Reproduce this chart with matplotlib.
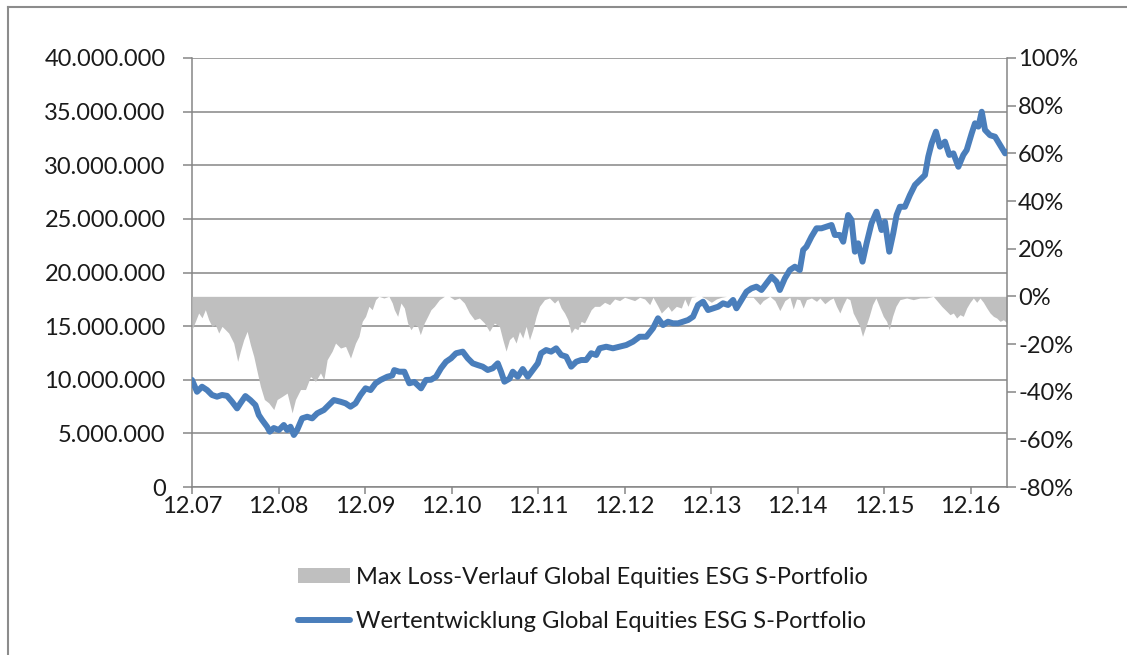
import matplotlib
matplotlib.use("Agg")
import matplotlib.pyplot as plt
import numpy as np
from matplotlib.ticker import FuncFormatter, FixedLocator
from matplotlib.patches import Patch
from matplotlib.lines import Line2D

# ---- data (x = years since Dec 2007) ----
years_value = [0.000, 0.058, 0.116, 0.174, 0.231, 0.289, 0.347, 0.405, 0.463, 0.521, 0.559, 0.617, 0.675, 0.733,
               0.772, 0.810, 0.868, 0.899, 0.945, 1.003, 1.061, 1.100, 1.138, 1.177, 1.215, 1.273, 1.331, 1.389,
               1.447, 1.524, 1.582, 1.640, 1.717, 1.775, 1.832, 1.890, 1.948, 2.006, 2.064, 2.122, 2.180, 2.257,
               2.315,
               2.338, 2.396, 2.454, 2.512, 2.569, 2.647, 2.704, 2.762, 2.820, 2.878, 2.936, 2.994, 3.052, 3.129,
               3.187, 3.245, 3.302, 3.360, 3.418, 3.476, 3.534, 3.572, 3.611, 3.669, 3.708, 3.765, 3.823, 3.881,
               3.939, 3.997, 4.035, 4.093, 4.151, 4.209, 4.267, 4.325, 4.383, 4.441, 4.498, 4.556, 4.614, 4.672,
               4.711, 4.788, 4.865, 4.942, 5.020, 5.097, 5.174, 5.251, 5.328, 5.386, 5.444, 5.502, 5.560, 5.618,
               5.676, 5.734, 5.791, 5.849, 5.907, 5.965, 6.023, 6.081, 6.138, 6.196, 6.254, 6.293, 6.351, 6.409,
               6.466, 6.524, 6.582, 6.640, 6.698, 6.756, 6.794, 6.852, 6.910, 6.968,
               7.025, 7.064, 7.102, 7.160, 7.218, 7.276, 7.334, 7.392, 7.430, 7.488, 7.527, 7.584, 7.623, 7.662,
               7.700, 7.750, 7.797, 7.854, 7.912, 7.970, 8.009, 8.059, 8.105, 8.144, 8.182, 8.240, 8.298, 8.356,
               8.414, 8.472, 8.510, 8.549, 8.599, 8.645, 8.703, 8.753, 8.800, 8.858, 8.915, 8.954, 9.012, 9.050,
               9.089, 9.128, 9.166, 9.224, 9.282, 9.340, 9.398, 9.420]
portfolio_mio = [9.98, 8.88, 9.35, 9.04, 8.58, 8.42, 8.58, 8.50, 7.95, 7.33, 7.80, 8.48, 8.10, 7.64,
                 6.71, 6.25, 5.62, 5.16, 5.50, 5.31, 5.78, 5.31, 5.62, 4.85, 5.31, 6.40, 6.55, 6.40,
                 6.87, 7.18, 7.64, 8.11, 7.95, 7.80, 7.49, 7.80, 8.58, 9.20, 9.04, 9.67, 9.98, 10.28,
                 10.40,
                 10.90, 10.75, 10.75, 9.67, 9.80, 9.20, 9.98, 10.00, 10.28, 11.07, 11.68, 12.00, 12.47, 12.62,
                 12.00, 11.53, 11.37, 11.22, 10.91, 11.07, 11.53, 10.75, 9.82, 10.10, 10.75, 10.28, 11.00, 10.28,
                 10.91, 11.53, 12.47, 12.77, 12.62, 12.93, 12.31, 12.16, 11.22, 11.68, 11.84, 11.84, 12.47, 12.31,
                 12.93, 13.08, 12.93, 13.08, 13.24, 13.55, 14.01, 14.01, 14.80, 15.73, 15.10, 15.41, 15.26, 15.26,
                 15.41, 15.57, 15.88, 16.97, 17.28, 16.50, 16.66, 16.81, 17.13, 16.97, 17.44, 16.66, 17.44, 18.21,
                 18.52, 18.68, 18.37, 18.99, 19.61, 19.14, 18.37, 19.45, 20.23, 20.54,
                 20.23, 22.10, 22.41, 23.34, 24.12, 24.12, 24.27, 24.43, 23.50, 23.50, 22.87, 25.36, 24.90, 21.94,
                 22.72, 21.01, 22.72, 24.59, 25.67, 23.96, 24.74, 21.94, 23.65, 25.36, 26.13, 26.13, 27.22, 28.16,
                 28.62, 29.09, 30.80, 32.04, 33.13, 31.73, 32.20, 30.96, 31.11, 29.86, 30.96, 31.42, 32.98, 33.91,
                 33.60, 34.99, 33.29, 32.80, 32.66, 31.89, 31.11, 31.26]

years_loss = [0.000, 0.039, 0.077, 0.116, 0.154, 0.193, 0.231, 0.270, 0.309, 0.347, 0.386, 0.424, 0.482, 0.528,
              0.559, 0.598, 0.637, 0.675, 0.714, 0.752, 0.791, 0.837, 0.887, 0.945, 0.984, 1.042, 1.100, 1.157,
              1.196, 1.254, 1.312, 1.370, 1.427, 1.485, 1.524, 1.562, 1.620, 1.659, 1.717, 1.775, 1.832, 1.890,
              1.929, 1.968, 2.006, 2.045, 2.083, 2.122, 2.160, 2.218, 2.276, 2.315,
              2.338, 2.377, 2.415, 2.454, 2.492, 2.531, 2.569, 2.608, 2.639, 2.685, 2.724, 2.762, 2.801, 2.859,
              2.917, 2.975, 3.032, 3.090, 3.148, 3.206, 3.264, 3.322, 3.380, 3.438, 3.495, 3.553, 3.592, 3.630,
              3.669, 3.708, 3.746, 3.785, 3.823, 3.862, 3.901, 3.939, 3.978, 4.016, 4.074, 4.132, 4.190, 4.228,
              4.267, 4.306, 4.344, 4.383, 4.421, 4.460, 4.498, 4.537, 4.576, 4.614, 4.653,
              4.711, 4.769, 4.827, 4.885, 4.942, 5.000, 5.058, 5.116, 5.174, 5.232, 5.290, 5.328, 5.386, 5.425,
              5.463, 5.502, 5.540, 5.598, 5.656, 5.695, 5.733, 5.772, 5.830, 5.888, 5.945, 6.003, 6.061, 6.119,
              6.177, 6.254, 6.331, 6.409, 6.486, 6.563, 6.601, 6.679, 6.737, 6.794, 6.852, 6.910, 6.949, 6.987,
              7.025, 7.064, 7.102, 7.160, 7.218, 7.257, 7.314, 7.372, 7.411, 7.449, 7.488, 7.527, 7.565, 7.604,
              7.642, 7.681, 7.719, 7.750, 7.789, 7.827, 7.866, 7.905, 7.951, 7.990, 8.028, 8.059, 8.097, 8.136,
              8.182, 8.260, 8.337, 8.414, 8.491, 8.568, 8.626, 8.665, 8.723, 8.761, 8.800, 8.838, 8.877, 8.915,
              8.954, 8.993, 9.031, 9.070, 9.108, 9.147, 9.186, 9.224, 9.263, 9.301, 9.340, 9.378, 9.420]
max_loss_pct = [-14.0, -10.5, -7.0, -9.0, -5.6, -9.8, -12.6, -11.9, -15.4, -12.6, -14.0, -15.4, -19.6, -27.3,
                -23.0, -18.2, -14.7, -20.3, -25.2, -31.5, -37.8, -43.3, -44.7, -47.5, -43.3, -42.0, -40.6, -48.9,
                -43.3, -39.1, -39.1, -33.6, -35.7, -32.1, -35.0, -26.6, -23.0, -19.6, -21.7, -21.0, -25.9, -19.6,
                -16.8, -10.5, -8.4, -4.2, -5.6, -1.4, 0.0, -0.7, 0.0, -2.8,
                -5.6, -8.4, -2.8, -4.9, -11.2, -14.0, -11.9, -12.6, -16.1, -11.2, -8.4, -5.6, -4.2, -1.4,
                0.0, 0.0, -1.4, -0.7, -2.8, -7.0, -9.8, -9.1, -11.2, -14.7, -11.2, -12.6, -18.2, -23.0,
                -18.2, -16.8, -19.6, -14.7, -17.5, -12.6, -18.2, -14.0, -8.4, -4.2, -1.4, -0.7, -2.8, -1.4,
                -4.9, -7.0, -9.8, -15.4, -13.3, -14.0, -10.5, -11.2, -8.4, -5.6, -4.2,
                -4.2, -2.5, -3.5, -1.1, -1.8, -0.4, -1.1, -1.8, -0.4, -1.1, -3.5, -0.4, -4.2, -7.0,
                -5.6, -4.2, -6.3, -4.2, -4.9, -1.1, -4.2, -0.4, 0.0, 0.0, -1.1, -2.5, -1.1, -0.4,
                0.0, 0.0, 0.0, -0.4, -0.4, -3.5, -1.8, 0.0, -1.8, -6.0, -1.8, -0.4, -5.3, -1.1,
                -1.4, -4.9, -1.4, -0.7, -2.1, -0.7, -3.1, -1.4, -0.7, -4.2, -7.0, -3.5, -0.7, -1.4,
                -7.0, -9.8, -12.6, -16.8, -12.6, -8.4, -3.5, -0.7, -4.9, -8.4, -10.5, -14.0, -8.4, -4.2,
                -1.4, -0.7, -1.4, -0.7, -0.7, 0.0, -2.5, -4.2, -6.3, -7.7, -7.0, -9.1, -7.7, -8.4,
                -4.9, -2.5, -0.7, -2.5, -0.7, -2.5, -4.9, -7.0, -8.4, -9.1, -10.5, -9.8, -11.2]

x_tick_years = [0, 1, 2, 3, 4, 5, 6, 7, 8, 9]
x_tick_labels = ["12.07", "12.08", "12.09", "12.10", "12.11", "12.12", "12.13", "12.14", "12.15", "12.16"]
label_loss = "Max Loss-Verlauf Global Equities ESG S-Portfolio"
label_value = "Wertentwicklung Global Equities ESG S-Portfolio"

# ---- style ----
FONT = "Lato"
FS = 17.0
plt.rcParams["font.family"] = [FONT, "DejaVu Sans"]
GRID = "#868686"
TXT = "#1a1a1a"
BLUE = "#4a7ebb"
GRAY = "#bfbfbf"
LW = 4.3
TL = 6.5

W, H = 1127, 655
fig = plt.figure(figsize=(W / 100, H / 100), dpi=100)
rect = [192 / W, 1 - 487 / H, (1007 - 192) / W, (487 - 58) / H]

# base axes: money scale + gridlines
ax = fig.add_axes(rect)
ax.set_xlim(0, 9.42)
ax.set_ylim(0, 40_000_000)
ax.yaxis.set_major_locator(FixedLocator(np.arange(0, 40_000_001, 5_000_000)))
ax.yaxis.set_major_formatter(FuncFormatter(lambda v, p: f"{int(round(v)):,}".replace(",", ".")))
ax.set_xticks(x_tick_years)
ax.set_xticklabels(x_tick_labels)
ax.grid(axis="y", color=GRID, lw=1.1)
ax.set_axisbelow(True)
for s in ["top", "right"]:
    ax.spines[s].set_visible(False)
for s in ["left", "bottom"]:
    ax.spines[s].set_color(GRID)
    ax.spines[s].set_linewidth(1.1)
ax.tick_params(axis="both", colors=GRID, labelcolor=TXT, labelsize=FS, width=1.1, direction="out")
ax.tick_params(axis="y", length=TL, pad=12.5)
ax.tick_params(axis="x", length=5, pad=1.5)

# percent axes: drawdown area
ax2 = ax.twinx()
ax2.set_ylim(-80, 100)
ax2.yaxis.set_major_locator(FixedLocator(np.arange(-80, 101, 20)))
ax2.yaxis.set_major_formatter(FuncFormatter(lambda v, p: f"{int(round(v))}%"))
ax2.fill_between(years_loss, max_loss_pct, 0, color=GRAY, lw=0)
for s in ["top", "left", "bottom"]:
    ax2.spines[s].set_visible(False)
ax2.spines["right"].set_color(GRID)
ax2.spines["right"].set_linewidth(1.1)
ax2.tick_params(axis="y", colors=GRID, labelcolor=TXT, labelsize=FS, length=TL, width=1.1, pad=1.5)

# line axes on top: portfolio value (money scale)
ax3 = ax.twinx()
ax3.set_ylim(0, 40_000_000)
ax3.set_xlim(0, 9.42)
ax3.plot(years_value, np.array(portfolio_mio) * 1_000_000, color=BLUE, lw=LW,
         solid_joinstyle="round", solid_capstyle="round", clip_on=True)
ax3.set_yticks([])
for s in ax3.spines.values():
    s.set_visible(False)

# legend
handles = [Patch(facecolor=GRAY, edgecolor="none"),
           Line2D([0], [0], color=BLUE, lw=LW, solid_capstyle="round")]
fig.legend(handles, [label_loss, label_value], loc="upper left",
           bbox_to_anchor=(298 / W, 1 - 567 / H), frameon=False, fontsize=FS,
           handlelength=2.2, handleheight=0.56, handletextpad=0.27, labelspacing=0.97,
           borderpad=0, borderaxespad=0, labelcolor=TXT)

# outer frame (top and left edges visible in the screenshot)
fig.add_artist(Line2D([8 / W, 8 / W], [0, 1 - 7 / H], color="#8c8c8c", lw=1.5, transform=fig.transFigure))
fig.add_artist(Line2D([8 / W, 1], [1 - 7 / H, 1 - 7 / H], color="#8c8c8c", lw=1.5, transform=fig.transFigure))

fig.savefig("out.png", dpi=100, facecolor="white")
